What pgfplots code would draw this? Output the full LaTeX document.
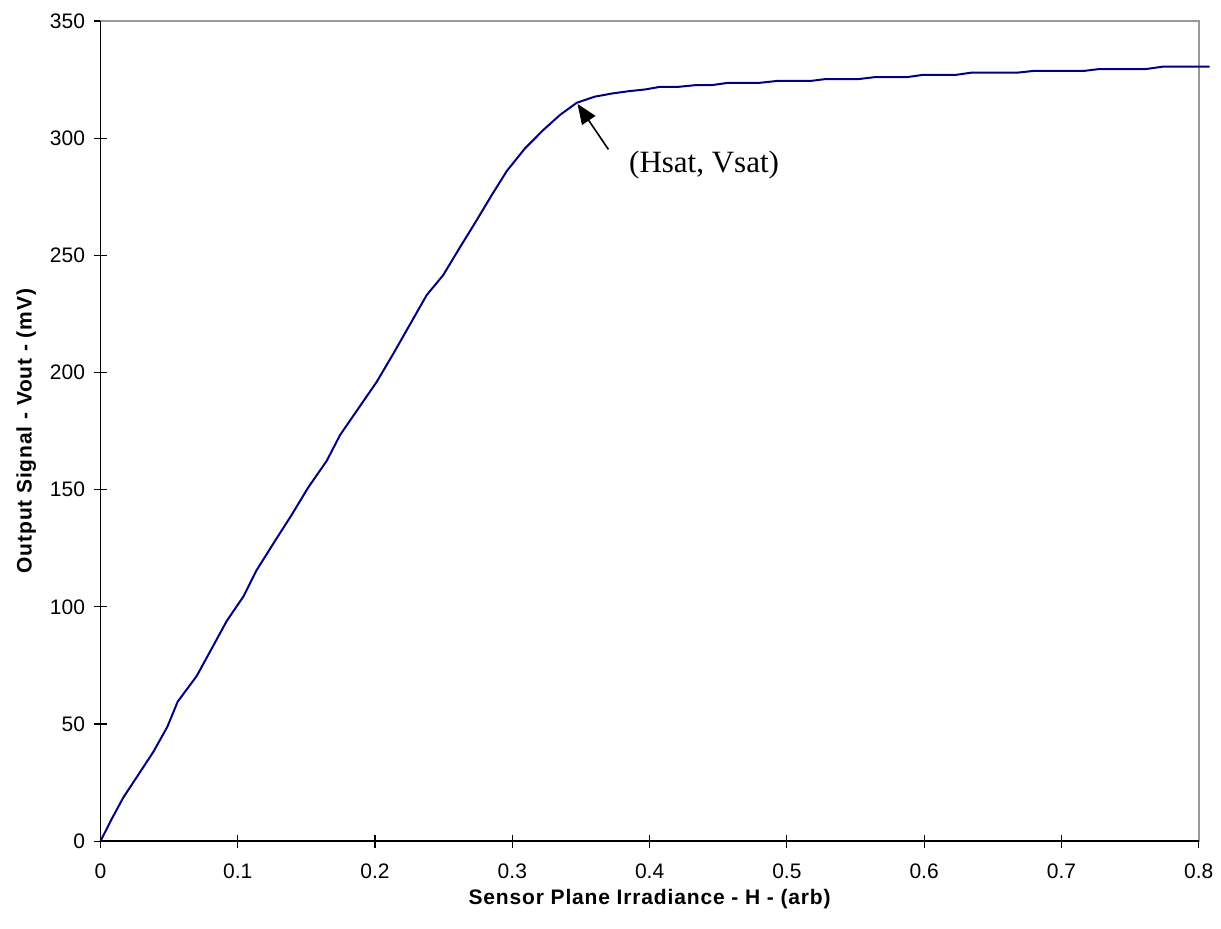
\documentclass[border=0pt]{standalone}
\usepackage{fontspec}
\setmainfont{Liberation Sans}
\newfontfamily\seriffont{Liberation Serif}
\usepackage{pgfplots}
\pgfplotsset{compat=1.18}
\usetikzlibrary{arrows.meta}
\definecolor{curve}{RGB}{0,0,128}
\begin{document}
\begin{tikzpicture}
\begin{axis}[
  name=ax,
  scale only axis,
  width=549pt, height=410pt,
  xmin=0, xmax=0.8, ymin=0, ymax=350,
  xtick={0,0.1,...,0.8},
  ytick={0,50,...,350},
  xticklabels={0,0.1,0.2,0.3,0.4,0.5,0.6,0.7,0.8},
  xtick pos=left, ytick pos=left,
  tick align=center,
  major tick length=6.5pt,
  tick style={black, line width=0.6pt},
  axis line style={draw=gray!80, line width=0.8pt},
  /pgf/number format/assume math mode=true,
  ticklabel style={font=\fontsize{10.5}{12}\selectfont},
  xticklabel style={yshift=-4.5pt},
  yticklabel style={xshift=-1pt},
  xlabel={\bfseries\addfontfeature{LetterSpace=4}Sensor Plane Irradiance - H - (arb)},
  ylabel={\bfseries\addfontfeature{LetterSpace=4}Output Signal - Vout - (mV)},
  label style={font=\fontsize{10.5}{12}\selectfont},
  xlabel style={yshift=1.5pt},
  ylabel style={yshift=0pt},
  clip=false,
]
\addplot[curve, line width=1pt, mark=none] coordinates {
(0,0) (0.0082,9.5) (0.0166,18.6) (0.0385,38.1) (0.0487,48.8) (0.0562,59.5)
(0.070,70.4) (0.0815,82.7) (0.092,94) (0.104,104.3) (0.1138,115.7)
(0.127,128) (0.139,139) (0.1514,151) (0.1648,162.3) (0.1745,173.3)
(0.2012,196) (0.2133,208) (0.223,218) (0.2376,233) (0.2497,241.6)
(0.2607,252.3) (0.273,264) (0.285,275.7) (0.296,286) (0.309,295.5)
(0.3226,303.5) (0.3347,309.9) (0.3469,315.1)
(0.360,317.7) (0.373,319.1) (0.3857,320.1) (0.397,320.8) (0.4076,321.9)
(0.421,321.9) (0.433,322.6) (0.445,322.6) (0.457,323.6) (0.469,323.6)
(0.480,323.6) (0.4926,324.4) (0.505,324.4) (0.517,324.4) (0.528,325.2)
(0.540,325.2) (0.552,325.2) (0.5635,326.0) (0.575,326.0) (0.587,326.0)
(0.599,327.0) (0.611,327.0) (0.623,327.0) (0.635,328.0) (0.647,328.0)
(0.658,328.0) (0.6686,328.0) (0.680,328.7) (0.692,328.7) (0.704,328.7)
(0.7165,328.7) (0.7276,329.5) (0.740,329.5) (0.751,329.5) (0.7616,329.5)
(0.7738,330.5) (0.786,330.5) (0.797,330.5) (0.808,330.5)
};
\draw[black, line width=0.8pt] (rel axis cs:0,1) -- (rel axis cs:0,0) -- (rel axis cs:1,0);
\draw[-{Triangle[length=10pt,width=8pt]}, line width=0.8pt] (axis cs:0.370,295.2) -- (axis cs:0.3475,314.6);
\node[font=\seriffont\fontsize{15.5}{18}\selectfont] at (axis cs:0.4397,288.5) {(Hsat, Vsat)};
\end{axis}
\path ([xshift=-50.25pt,yshift=-43.5pt]ax.south west) rectangle ([xshift=11.15pt,yshift=10.5pt]ax.north east);
\end{tikzpicture}
\end{document}
